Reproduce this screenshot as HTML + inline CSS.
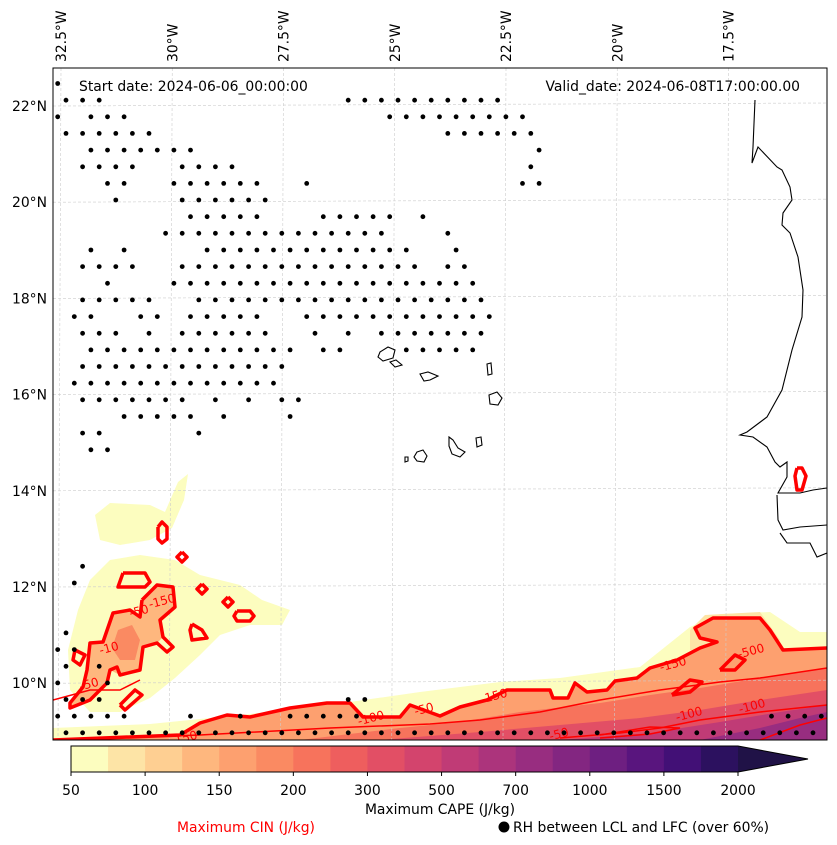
<!DOCTYPE html>
<html><head><meta charset="utf-8"><style>
html,body{margin:0;padding:0;background:#fff;}
svg{display:block;font-family:"DejaVu Sans","Liberation Sans",sans-serif;}
</style></head><body>
<svg id="fig" width="837" height="845" viewBox="0 0 837 845">
<defs><clipPath id="mapclip"><rect x="53" y="68" width="774" height="672"/></clipPath></defs>
<g id="map" clip-path="url(#mapclip)"></g>
<rect x="53" y="68" width="774" height="672" fill="none" stroke="#000" stroke-width="1"/>
<g id="axes"></g>
<text x="79" y="91" font-size="13.9">Start date: 2024-06-06_00:00:00</text>
<text x="800" y="91" font-size="13.9" text-anchor="end">Valid_date: 2024-06-08T17:00:00.00</text>
<g id="cbar"></g>
<text x="440" y="814" font-size="13.9" text-anchor="middle">Maximum CAPE (J/kg)</text>
<text x="246" y="832" font-size="13.9" fill="#ff0000" text-anchor="middle">Maximum CIN (J/kg)</text>
<circle cx="504" cy="827" r="5.5" fill="#000"/>
<text x="513" y="832" font-size="13.9">RH between LCL and LFC (over 60%)</text>
</svg>
<script>
// ---- data ----
const lonTicks = [-32.5,-30,-27.5,-25,-22.5,-20,-17.5];
const lonTickLabels = ["32.5°W","30°W","27.5°W","25°W","22.5°W","20°W","17.5°W"];
const latTicks = [22,20,18,16,14,12,10];
const latTickLabels = ["22°N","20°N","18°N","16°N","14°N","12°N","10°N"];
const cbLevels = [50,75,100,125,150,175,200,250,300,400,500,600,700,850,1000,1250,1500,1750,2000];
const cbTickLabels = ["50","100","150","200","300","500","700","1000","1500","2000"];
const cbColors = ["#fcfdbf","#fde4a6","#fecf92","#feb77e","#fda06f","#fa8a62","#f7735c","#ee5e5e","#e24f65","#d3446d","#c03b76","#ac347c","#982d80","#832681","#6e1f81","#59157e","#421076","#2c115f"];
const cbOverColor = "#201247";
const dotRows = {
 0:[[0,0]],1:[[0,2],[17,26]],2:[[0,0],[2,4],[20,28]],3:[[0,5],[23,28]],4:[[2,8],[29,29]],
 5:[[1,4],[7,10],[28,28]],6:[[3,4],[7,12],[15,15],[28,29]],7:[[3,3],[7,12]],8:[[8,12],[16,20],[22,22]],
 9:[[6,19],[23,23]],10:[[2,2],[4,4],[9,21],[24,24]],11:[[1,4],[7,21],[23,24]],12:[[3,3],[7,25]],
 13:[[1,5],[8,25]],14:[[1,2],[5,6],[8,12],[15,26]],15:[[1,3],[5,5],[7,12],[15,15],[17,17],[19,25]],
 16:[[2,14],[16,17],[21,25]],17:[[1,13]],18:[[1,13]],19:[[1,7],[9,9],[11,11],[13,14]],
 20:[[4,8],[10,10],[14,14]],21:[[1,2],[8,8]],22:[[2,3]],29:[[1,1]],30:[[1,1]],33:[[0,0]],
 34:[[0,1]],35:[[0,0],[2,2]],36:[[0,0],[3,3]],37:[[0,2],[17,18]],
 38:[[0,4],[8,8],[11,11],[14,18],[43,46]],39:[[0,45]]
};
// ---- projection ----
const X = lon => 61 + (lon + 32.5) * 44.5;
const Y = lat => 106 + (22 - lat) * 48.1;
const inv = (px,py)=>[(px-61)/44.5-32.5, 22-(py-106)/48.1];
const rawShapes = {
 paleBottom:[[53,728],[150,724],[250,714],[350,702],[420,692],[500,682],[560,678],[640,667],[690,627],[720,614],[770,612],[800,632],[827,632],[827,740],[53,740]],
 orangeBottom:[[53,740],[180,735],[200,723],[227,715],[250,717],[290,708],[327,703],[350,703],[363,717],[400,717],[410,705],[440,716],[460,707],[487,700],[507,690],[550,690],[553,698],[568,698],[575,683],[587,692],[607,690],[615,681],[637,678],[650,668],[677,660],[700,648],[717,642],[700,638],[695,628],[713,618],[760,618],[770,630],[783,650],[827,648],[827,740]],
 pinkBottom:[[300,740],[400,728],[460,722],[520,712],[600,703],[650,695],[700,688],[760,678],[827,668],[827,740]],
 roseBottom:[[380,740],[480,732],[560,725],[640,718],[700,710],[760,700],[827,690],[827,740]],
 magBottom:[[560,740],[650,733],[720,722],[780,712],[827,705],[827,740]],
 purpBottom:[[700,740],[760,728],[800,718],[827,712],[827,740]],
 paleLeft1:[[95,515],[110,503],[150,505],[165,512],[178,482],[188,474],[184,500],[172,528],[150,540],[120,545],[100,540]],
 paleLeft2:[[90,580],[110,560],[140,555],[175,560],[200,575],[240,585],[262,600],[290,610],[282,625],[250,625],[220,635],[200,655],[175,678],[150,698],[120,712],[90,712],[70,690],[68,650],[78,610]],
 orangeLeft:[[142,600],[157,585],[173,587],[175,607],[160,620],[163,637],[157,643],[143,647],[140,670],[120,675],[110,670],[107,683],[90,700],[70,706],[83,687],[87,670],[90,643],[103,642],[113,613],[130,610],[140,617]],
 darkLeft:[[118,630],[132,625],[140,640],[135,660],[120,660],[112,648]],
 paleRight:[[690,630],[705,615],[760,612],[780,640],[760,660],[720,665],[690,650]]
};
const shapeLevels = {paleBottom:0,orangeBottom:4,pinkBottom:6,roseBottom:8,magBottom:10,purpBottom:12,paleLeft1:0,paleLeft2:0,orangeLeft:3,darkLeft:5,paleRight:1};
const cinThick = [
 [[53,740],[180,735],[200,723],[227,715],[250,717],[290,708],[327,703],[350,703],[363,717],[400,717],[410,705],[440,716],[460,707],[487,700],[507,690],[550,690],[553,698],[568,698],[575,683],[587,692],[607,690],[615,681],[637,678],[650,668],[677,660],[700,648],[717,642],[700,638],[695,628],[713,618],[760,618],[770,630],[783,650],[827,648]],
 [[142,600],[157,585],[173,587],[175,607],[160,620],[163,637],[173,647],[167,652],[157,643],[143,647],[140,670],[120,675],[117,667],[110,670],[107,683],[90,700],[70,708],[70,703],[83,687],[87,670],[90,643],[103,642],[113,613],[130,610],[140,617],[142,600]],
 [[158,527],[162,522],[167,527],[167,539],[162,543],[158,539],[158,527]],
 [[182,552],[187,557],[182,562],[177,557],[182,552]],
 [[123,573],[145,573],[150,582],[145,587],[118,587],[123,573]],
 [[202,584],[207,589],[202,594],[197,589],[202,584]],
 [[228,597],[233,602],[228,607],[223,602],[228,597]],
 [[237,611],[250,611],[254,616],[250,621],[237,621],[234,616],[237,611]],
 [[192,624],[202,630],[207,638],[192,640],[190,630],[192,624]],
 [[120,705],[135,690],[142,695],[125,710],[120,705]],
 [[75,650],[85,655],[80,665],[73,660],[75,650]],
 [[797,468],[802,468],[806,476],[802,490],[797,490],[795,476],[797,468]],
 [[672,695],[690,680],[702,682],[690,692],[672,695]],
 [[720,670],[735,655],[745,660],[735,670],[720,670]]
];
const cinThin = [
 [[53,700],[90,690],[120,690],[140,680]],
 [[53,740],[200,735],[330,728],[430,724],[480,720],[540,712],[600,700],[660,690],[720,682],[760,678],[827,668]],
 [[560,738],[620,733],[660,728],[700,720],[760,712],[827,705]],
 [[600,735],[650,727],[680,728],[650,734],[600,738]],
 [[760,740],[800,725],[827,718]]
];
const cinLabels = [["-150",185,742],["-100",372,722],["-50",425,713],["-150",495,700],["-150",674,668],["-500",752,655],["-100",690,718],["-100",753,710],["-50",560,738],["-50",140,615],["-150",163,605],["-10",110,652],["-50",90,688]];
const coast = [[755,100],[753,147],[752,163],[758,147],[777,167],[782,170],[790,187],[792,200],[783,213],[782,225],[790,233],[798,257],[803,290],[802,317],[792,350],[782,390],[767,417],[747,432],[740,435],[753,437],[767,447],[775,462],[780,467],[787,462],[787,477],[778,493],[800,493],[813,490],[827,488]];
const coast2 = [[777,495],[778,520],[783,530],[800,527],[827,525]];
const coast3 = [[780,533],[787,543],[810,543],[817,557],[827,553]];
const islands = [[[380,352],[388,347],[395,350],[393,358],[383,361],[378,357]],[[390,362],[396,360],[402,365],[395,367]],[[420,374],[428,372],[438,376],[430,380],[424,381]],[[487,364],[491,363],[492,374],[488,375]],[[489,395],[497,392],[502,398],[498,405],[490,404]],[[476,438],[481,437],[482,445],[477,447]],[[449,437],[453,440],[458,448],[465,452],[460,457],[452,454],[449,446]],[[417,452],[423,450],[427,456],[424,462],[417,461],[414,457]],[[405,457],[408,457],[408,461],[405,462]]];

// ---- drawing ----
const NS="http://www.w3.org/2000/svg";
function mk(tag,attrs,parent){const e=document.createElementNS(NS,tag);for(const k in attrs)e.setAttribute(k,attrs[k]);parent.appendChild(e);return e;}
const map=document.getElementById('map');
const axes=document.getElementById('axes');
const cbar=document.getElementById('cbar');
const ptsStr = arr => arr.map(p=>{const ll=inv(p[0],p[1]);return X(ll[0]).toFixed(1)+","+Y(ll[1]).toFixed(1);}).join(" ");

for(const k of ["paleBottom","paleLeft1","paleLeft2","paleRight","orangeBottom","orangeLeft","darkLeft","pinkBottom","roseBottom","magBottom","purpBottom"]){
  const e=mk('polygon',{points:ptsStr(rawShapes[k]),fill:cbColors[shapeLevels[k]],stroke:'none'},map);
  
  
}
for(const lon of lonTicks){const e=mk('line',{x1:X(lon),y1:68,x2:X(lon)-3,y2:740,stroke:'#cccccc','stroke-width':0.6,'stroke-dasharray':'3,2'},map);
  
  }
for(const lat of latTicks){const e=mk('line',{x1:53,y1:Y(lat),x2:827,y2:Y(lat)-3,stroke:'#cccccc','stroke-width':0.6,'stroke-dasharray':'3,2'},map);
  
  }
for(const c of cinThick){const e=mk('polyline',{points:ptsStr(c),fill:'none',stroke:'#ff0000','stroke-width':3.5,'stroke-linejoin':'round'},map);
  
  }
for(const c of cinThin){const e=mk('polyline',{points:ptsStr(c),fill:'none',stroke:'#ff0000','stroke-width':1.5},map);
  
  }
for(const l of cinLabels){const e=mk('text',{x:l[1],y:l[2],'font-size':12,fill:'#ff0000','text-anchor':'middle',transform:`rotate(-15 ${l[1]} ${l[2]})`},map);e.textContent=l[0];
  
  }
for(const c of [coast,coast2,coast3]){const e=mk('polyline',{points:ptsStr(c),fill:'none',stroke:'#000','stroke-width':1.1},map);
  
  }
for(const c of islands){const e=mk('polygon',{points:ptsStr(c),fill:'none',stroke:'#000','stroke-width':1.1},map);
  
  }
for(const r in dotRows){
  const row=+r; const y=83.5+row*16.65; const x0=(row%2===0)?57.7:66;
  for(const seg of dotRows[r]) for(let c=seg[0];c<=seg[1];c++){
    const e=mk('circle',{cx:(x0+c*16.6).toFixed(1),cy:y.toFixed(1),r:2.4,fill:'#000'},map);
    
    
  }
}
lonTicks.forEach((lon,i)=>{const x=X(lon)+5,y=62;const e=mk('text',{x:x,y:y,'font-size':13.9,transform:`rotate(-90 ${x} ${y})`},axes);e.textContent=lonTickLabels[i];
  
  });
latTicks.forEach((lat,i)=>{const e=mk('text',{x:47,y:Y(lat)+5,'font-size':13.9,'text-anchor':'end'},axes);e.textContent=latTickLabels[i];
  
  });
const cbX0=71,cbX1=738,cbY=746,cbH=26;
const nb=cbLevels.length-1, bw=(cbX1-cbX0)/nb;
const cbx = i => cbX0 + i*bw;
cbColors.forEach((col,i)=>{const e=mk('rect',{x:cbx(i),y:cbY,width:bw+0.5,height:cbH,fill:col},cbar);
  
  });
const tri=mk('polygon',{points:`${cbX1},${cbY} ${cbX1+70},${cbY+cbH/2} ${cbX1},${cbY+cbH}`,fill:cbOverColor},cbar);


const ol=mk('polygon',{points:`${cbX0},${cbY} ${cbX1},${cbY} ${cbX1+70},${cbY+cbH/2} ${cbX1},${cbY+cbH} ${cbX0},${cbY+cbH}`,fill:'none',stroke:'#000','stroke-width':1},cbar);


cbTickLabels.forEach((t,i)=>{const x=cbx(i*2);
  const tk=mk('line',{x1:x,y1:cbY+cbH,x2:x,y2:cbY+cbH+4,stroke:'#000'},cbar);
  
  
  const e=mk('text',{x:x,y:795,'font-size':13.9,'text-anchor':'middle'},cbar);e.textContent=t;
  
  });
</script>
</body></html>
